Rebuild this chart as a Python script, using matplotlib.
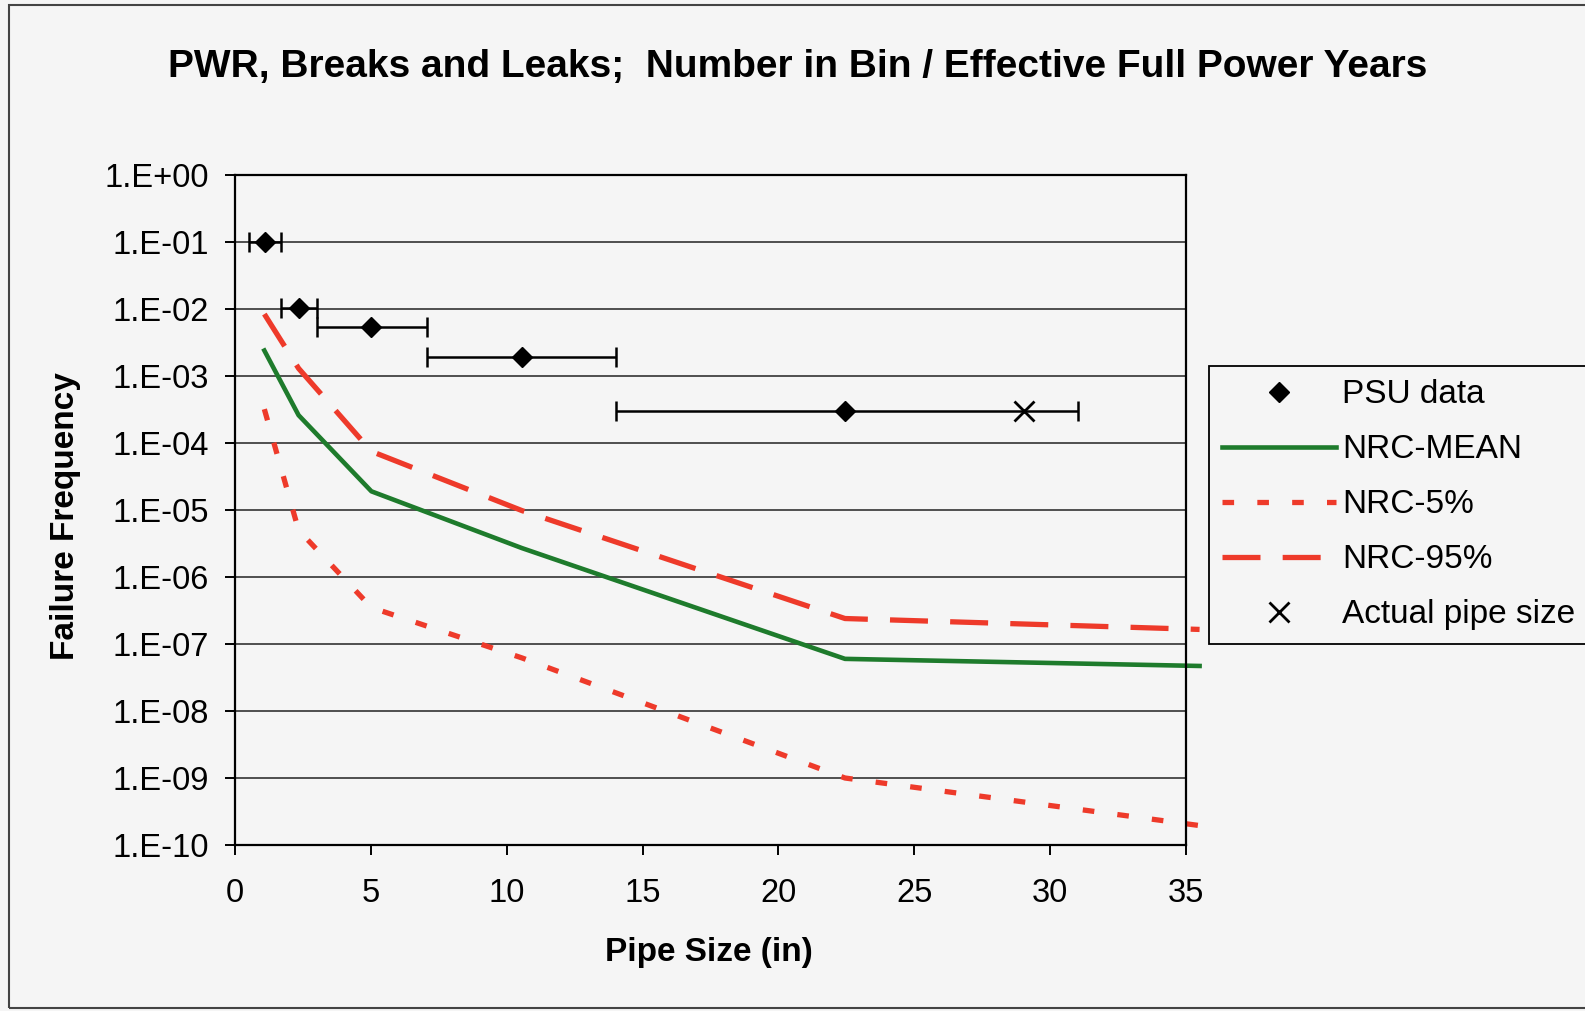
import numpy as np
import matplotlib
matplotlib.use("Agg")
import matplotlib.pyplot as plt
from matplotlib.ticker import FixedLocator, FuncFormatter, NullLocator
from matplotlib.patches import Rectangle

# PSU data (bin centre, frequency, bin edges)
psu_x = np.array([1.09, 2.34, 5.02, 10.56, 22.45])
psu_y = np.array([1.0e-1, 1.05e-2, 5.3e-3, 1.94e-3, 3.0e-4])
bin_lo = np.array([0.50, 1.69, 3.02, 7.07, 14.02])
bin_hi = np.array([1.69, 3.02, 7.07, 14.02, 31.03])

# actual pipe size
actual_x = [29.04]
actual_y = [3.0e-4]

# NRC curves
nrc_x = [1.08, 2.34, 5.02, 10.56, 22.45, 35.5]
nrc_mean = [2.4e-3, 2.6e-4, 1.9e-5, 2.7e-6, 6.0e-8, 4.7e-8]
nrc_5 = [3.2e-4, 5.0e-6, 3.5e-7, 6.2e-8, 1.0e-9, 1.95e-10]
nrc_95 = [8.4e-3, 1.3e-3, 7.5e-5, 9.8e-6, 2.4e-7, 1.65e-7]

W, H = 1585, 1011
bg = "#f5f5f5"
plt.rcParams['font.family'] = ['Liberation Sans', 'DejaVu Sans']

fig = plt.figure(figsize=(W / 100, H / 100), dpi=100, facecolor=bg)
ax = fig.add_axes([235 / W, 1 - 845 / H, (1186 - 235) / W, (845 - 175) / H])
ax.set_facecolor(bg)

# outer border of the chart area
fig.patches.append(Rectangle((9 / W, 1 - 1008 / H), 1.2, (1008 - 5) / H,
                             transform=fig.transFigure, fill=False,
                             edgecolor="#444444", lw=1.5))

ax.errorbar(psu_x, psu_y, xerr=[psu_x - bin_lo, bin_hi - psu_x], fmt="none",
            ecolor="black", elinewidth=1.8, capsize=7, capthick=1.8, zorder=3)
ax.plot(psu_x, psu_y, "D", color="black", ms=10, label="PSU data", zorder=4)

ax.plot(nrc_x, nrc_mean, color="#1e7b2c", lw=3.3, label="NRC-MEAN",
        clip_on=False, zorder=2)
ax.plot(nrc_x, nrc_5, color="#ee3a2a", lw=3.8, dashes=(2.2, 4.4),
        label="NRC-5%", clip_on=False, zorder=2)
ax.plot(nrc_x, nrc_95, color="#ee3a2a", lw=3.8, dashes=(7.2, 4.2),
        label="NRC-95%", clip_on=False, zorder=2)
ax.plot(actual_x, actual_y, "x", color="black", ms=15, mew=2,
        label="Actual pipe size", zorder=5)

ax.set_yscale("log")
ax.set_ylim(1e-10, 1)
ax.set_xlim(0, 35)
ax.xaxis.set_major_locator(FixedLocator(np.arange(0, 36, 5)))
ax.yaxis.set_major_locator(FixedLocator([10.0 ** e for e in range(-10, 1)]))
ax.yaxis.set_minor_locator(NullLocator())
ax.yaxis.set_major_formatter(
    FuncFormatter(lambda v, p: "1.E%+03d" % int(round(np.log10(v)))))

ax.yaxis.grid(True, color="#333333", lw=1.2)
ax.set_axisbelow(True)
for s in ax.spines.values():
    s.set_linewidth(1.6)
    s.set_color("black")

ax.tick_params(axis="both", direction="out", length=7, width=1.4,
               labelsize=23.5)
ax.tick_params(axis="x", pad=17)
ax.tick_params(axis="y", pad=12)

fig.text(798 / W, 1 - 67 / H,
         "PWR, Breaks and Leaks;  Number in Bin / Effective Full Power Years",
         ha="center", va="center", fontsize=28, fontweight="bold")
fig.text(709 / W, 1 - 953 / H, "Pipe Size (in)", ha="center", va="center",
         fontsize=24, fontweight="bold")
fig.text(66 / W, 1 - 516 / H, "Failure Frequency", ha="center", va="center",
         rotation=90, fontsize=24, fontweight="bold")

leg = fig.legend(loc="upper left", bbox_to_anchor=(1209 / W, 1 - 366 / H),
                 borderaxespad=0, fontsize=24, frameon=True, fancybox=False,
                 edgecolor="black", facecolor=bg, framealpha=1,
                 handlelength=3.4, handletextpad=0.2, labelspacing=0.72,
                 borderpad=0.4)
leg.get_frame().set_linewidth(1.3)

fig.savefig("out.png", dpi=100, facecolor=bg)
